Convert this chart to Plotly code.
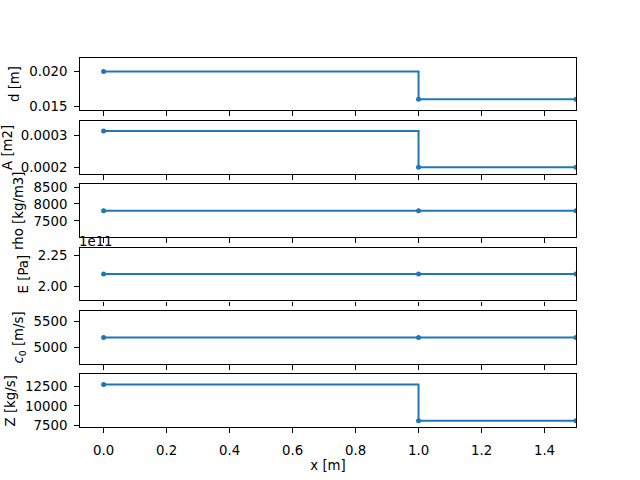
import plotly.graph_objects as go

# ---- data ----
x = [0.0, 1.0, 1.5]
d = [0.020, 0.016, 0.016]
A = [0.000314, 0.000201, 0.000201]
rho = [7800, 7800, 7800]
E = [2.1e11, 2.1e11, 2.1e11]
c0 = [5189, 5189, 5189]
Z = [12715, 8137, 8137]

series = [d, A, rho, E, c0, Z]
ylabels = ["d [m]", "A [m2]", "rho [kg/m3]", "E [Pa]", "<i>c</i><sub>0</sub> [m/s]", "Z [kg/s]"]
yticks = [
    ([0.015, 0.020], ["0.015", "0.020"]),
    ([0.0002, 0.0003], ["0.0002", "0.0003"]),
    ([7500, 8000, 8500], ["7500", "8000", "8500"]),
    ([2.0e11, 2.25e11], ["2.00", "2.25"]),
    ([5000, 5500], ["5000", "5500"]),
    ([7500, 10000, 12500], ["7500", "10000", "12500"]),
]
xticks = [0.0, 0.2, 0.4, 0.6, 0.8, 1.0, 1.2, 1.4]
xticktext = ["0.0", "0.2", "0.4", "0.6", "0.8", "1.0", "1.2", "1.4"]

COLOR = "#1f77b4"
FONT = dict(family="DejaVu Sans", size=13.3, color="black")

fig = go.Figure()
n = len(series)
h = 0.11
step = 0.132
layout = dict(
    width=640, height=480, margin=dict(l=0, r=0, t=0, b=0, autoexpand=False),
    paper_bgcolor="white", plot_bgcolor="white", showlegend=False,
    font=FONT,
)
annotations = []
for i, (vals, lab, (tv, tt)) in enumerate(zip(series, ylabels, yticks)):
    k = n - 1 - i  # position from bottom
    suffix = "" if i == 0 else str(i + 1)
    fig.add_trace(go.Scatter(
        x=x, y=vals, mode="lines+markers", line=dict(color=COLOR, width=2, shape="hv"),
        marker=dict(color=COLOR, size=5), xaxis="x" + suffix, yaxis="y" + suffix,
        cliponaxis=True,
    ))
    y0 = 0.11 + k * step
    common = dict(showline=True, mirror=True, linecolor="black", linewidth=1.07,
                  ticks="outside", ticklen=4.9, tickwidth=1.07, tickcolor="black",
                  showgrid=False, zeroline=False, tickfont=FONT, ticklabelstandoff=4,
                  automargin=False)
    xa = dict(common, domain=[0.125, 0.9], range=[-0.075, 1.5], anchor="y" + suffix,
              tickvals=xticks, ticktext=xticktext, showticklabels=(i == n - 1),
              ticklabelstandoff=6)
    if i != 0:
        xa["matches"] = "x"
    if i == n - 1:
        xa["title"] = dict(text="x [m]", font=FONT, standoff=2)
    ya = dict(common, domain=[y0, y0 + h], range=[0.9 * min(vals), 1.1 * max(vals)],
              anchor="x" + suffix, tickvals=tv, ticktext=tt,
              title=dict(text=lab, font=FONT, standoff=6))
    layout["xaxis" + suffix] = xa
    layout["yaxis" + suffix] = ya
    if i == 3:
        annotations.append(dict(text="1e11", xref="paper", yref="paper", x=0.125, y=y0 + h,
                                xanchor="left", yanchor="bottom", showarrow=False, font=FONT,
                                yshift=-3, xshift=-3))

layout["annotations"] = annotations
fig.update_layout(**layout)
fig.write_html("out.html")
